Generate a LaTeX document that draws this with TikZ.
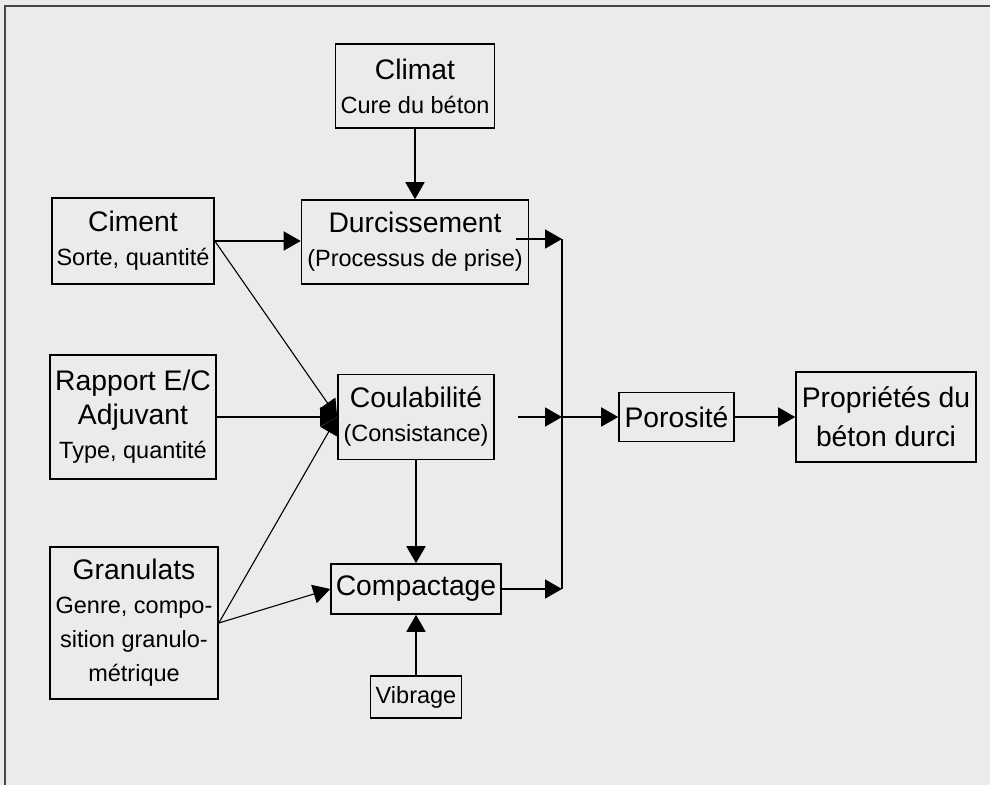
\documentclass[tikz,border=0pt]{standalone}
\usepackage{fontspec}
\setmainfont{Liberation Sans}
\usetikzlibrary{arrows.meta}
\definecolor{fond}{HTML}{EBEBEB}
\definecolor{cadre}{HTML}{474747}
\newcommand{\titre}{\fontsize{28.3}{34}\selectfont}
\newcommand{\sous}{\fontsize{23.5}{34}\selectfont}

\begin{document}
\begin{tikzpicture}[x=1pt, y=-1pt,
		bloc/.style={rectangle, draw, line width=1.6pt, inner sep=0pt, align=center, font=\titre},
		fl/.style={-{Triangle[length=17pt, width=19pt]}, line width=1.8pt},
		fin/.style={-{Triangle[length=17pt, width=19pt]}, line width=1.1pt}]
					\fill[fond] (0,0) rectangle (990,785);
					\useasboundingbox (0,0) rectangle (990,785);
					\draw[cadre, line width=2.6pt] (5,785) -- (5,6) -- (990,6);

					\node[bloc, minimum width=159, minimum height=84] (clim) at (415,86) {Climat\\\sous Cure du béton};
					\node[bloc, minimum width=227, minimum height=84] (durc) at (415,242) {Durcissement\\\sous (Processus de prise)};
					\node[bloc, minimum width=162, minimum height=86] (cim) at (133,241) {Ciment\\\sous Sorte, quantité};
					\node[bloc, minimum width=166, minimum height=124] (rap) at (133,417) {Rapport E/C\\Adjuvant\\\sous Type, quantité};
					\node[bloc, minimum width=156, minimum height=85] (coul) at (416,417) {Coulabilité\\\sous (Consistance)};
					\node[bloc, minimum width=168, minimum height=152] (gran) at (134,623) {Granulats\\\sous Genre, compo-\\\sous sition granulo-\\\sous métrique};
					\node[bloc, minimum width=170, minimum height=50] (comp) at (416,589) {Compactage};
					\node[bloc, minimum width=91, minimum height=42, font=\sous] (vib) at (416,697) {Vibrage};
					\node[bloc, minimum width=115, minimum height=49] (poro) at (676.5,417) {Porosité};
					\node[bloc, minimum width=180, minimum height=90] (prop) at (886,417) {Propriétés du\\[5pt]béton durci};

					\coordinate (bh) at (562,239);
					\coordinate (bm) at (562,417);
					\coordinate (bb) at (562,589);

					\path
						(clim) edge[fl] (durc)
						(cim.east) edge[fl] (cim.east -| durc.west)
						(cim.east) edge[fin] (coul.west)
						(rap) edge[fl] (coul.west)
						(gran.east) edge[fin] (coul.west)
						(gran.east) edge[fin] (comp.west)
						(coul) edge[fl] (comp)
						(vib) edge[fl] (comp)
						([xshift=-13pt,yshift=3pt]durc.east) edge[fl] (bh)
						([xshift=23pt]coul.east) edge[fl] (bm)
						(comp.east) edge[fl] (bb)
						(bm) edge[fl] (poro)
						(poro) edge[fl] (prop)
					;
					\draw[line width=1.8pt] (bh) -- (bb);
				\end{tikzpicture}
\end{document}
